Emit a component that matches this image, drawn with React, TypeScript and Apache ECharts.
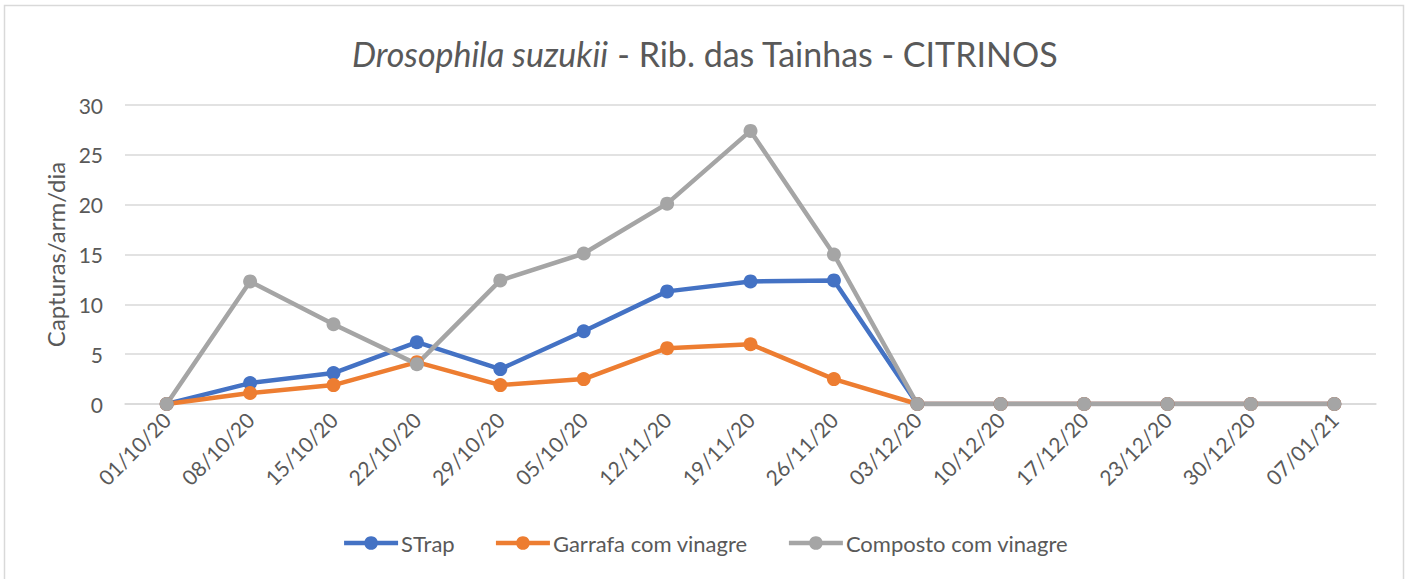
import React, { useEffect, useRef } from "react";
import * as echarts from "echarts";

const categories = [
  "01/10/20", "08/10/20", "15/10/20", "22/10/20", "29/10/20", "05/10/20", "12/11/20",
  "19/11/20", "26/11/20", "03/12/20", "10/12/20", "17/12/20", "23/12/20", "30/12/20", "07/01/21",
];
const strapValues = [0, 2.1, 3.1, 6.2, 3.5, 7.3, 11.3, 12.3, 12.4, 0, 0, 0, 0, 0, 0];
const garrafaValues = [0, 1.1, 1.9, 4.2, 1.9, 2.5, 5.6, 6.0, 2.5, 0, 0, 0, 0, 0, 0];
const compostoValues = [0, 12.3, 8.0, 4.0, 12.4, 15.1, 20.1, 27.4, 15.0, 0, 0, 0, 0, 0, 0];
const yTicks = { min: 0, max: 30, interval: 5 };

const FONT = "Lato";
const TEXT = "#595959";

export default function App() {
  const ref = useRef<HTMLDivElement>(null);
  useEffect(() => {
    document.body.style.margin = "0";
    const chart = echarts.init(ref.current!, null, { renderer: "svg" });
    const mkSeries = (name: string, data: number[], color: string) => ({
      name,
      type: "line",
      data,
      symbol: "circle",
      symbolSize: 14,
      itemStyle: { color },
      lineStyle: { color, width: 4.5 },
    });
    chart.setOption({
      animation: false,
      backgroundColor: "#ffffff",
      textStyle: { fontFamily: FONT },
      graphic: [
        {
          type: "rect",
          shape: { x: 4.5, y: 5.5, width: 1399, height: 620 },
          style: { fill: "none", stroke: "#d9d9d9", lineWidth: 1.5 },
          silent: true,
        },
      ],
      title: {
        text: "{i|Drosophila suzukii} - Rib. das Tainhas - CITRINOS",
        left: "center",
        top: 31,
        textStyle: {
          fontFamily: FONT,
          fontSize: 34,
          fontWeight: "normal",
          color: TEXT,
          rich: {
            i: { fontFamily: FONT, fontSize: 34, fontStyle: "italic", color: TEXT },
          },
        },
      },
      legend: {
        bottom: 20,
        left: "center",
        itemWidth: 54,
        itemHeight: 17,
        itemGap: 39,
        lineStyle: { width: 4.5 },
        textStyle: { fontFamily: FONT, fontSize: 22, color: TEXT, padding: [0, 0, 0, -2] },
        data: ["STrap", "Garrafa com vinagre", "Composto com vinagre"],
      },
      grid: { left: 125, right: 34, top: 105, bottom: 175, containLabel: false },
      xAxis: {
        type: "category",
        data: categories,
        boundaryGap: true,
        axisLine: { show: true, lineStyle: { color: "#d9d9d9", width: 1.5 } },
        axisTick: { show: false },
        axisLabel: { rotate: 45, fontFamily: FONT, fontSize: 21, color: TEXT, margin: 12, interval: 0 },
      },
      yAxis: {
        type: "value",
        min: yTicks.min,
        max: yTicks.max,
        interval: yTicks.interval,
        name: "Capturas/arm/dia",
        nameLocation: "middle",
        nameGap: 58,
        nameTextStyle: { fontFamily: FONT, fontSize: 24, color: TEXT },
        axisLine: { show: false },
        axisTick: { show: false },
        axisLabel: { fontFamily: FONT, fontSize: 21, color: TEXT, margin: 22 },
        splitLine: { lineStyle: { color: "#d9d9d9", width: 1.5 } },
      },
      series: [
        mkSeries("STrap", strapValues, "#4472C4"),
        mkSeries("Garrafa com vinagre", garrafaValues, "#ED7D31"),
        mkSeries("Composto com vinagre", compostoValues, "#A5A5A5"),
      ],
    });
    return () => chart.dispose();
  }, []);
  return <div ref={ref} style={{ width: 1410, height: 579 }} />;
}
